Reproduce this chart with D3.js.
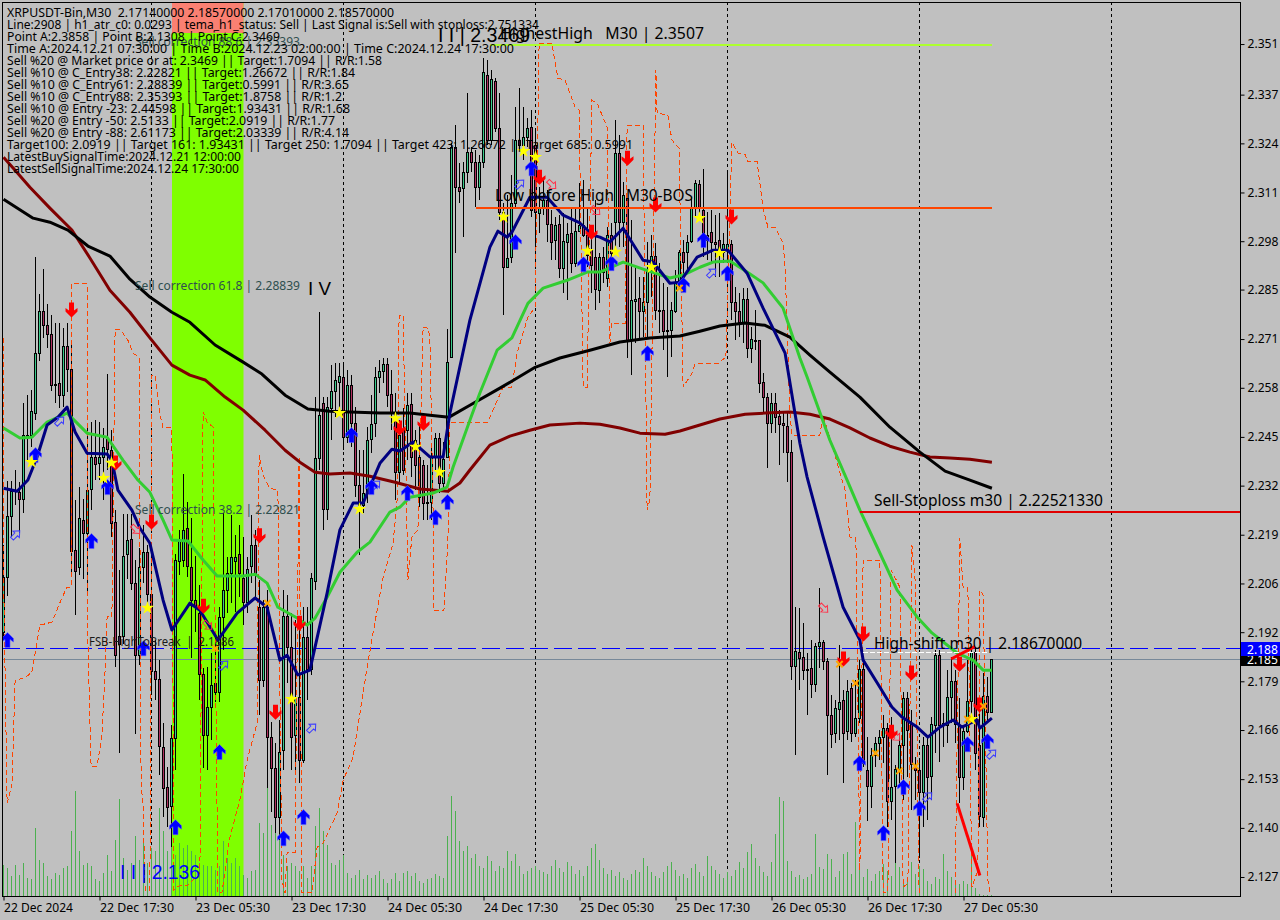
<!DOCTYPE html>
<html><head><meta charset="utf-8">
<script src="https://cdn.jsdelivr.net/npm/d3@7/dist/d3.min.js"></script>
<style>html,body{margin:0;padding:0;background:#c0c0c0;overflow:hidden}svg{display:block}text{font-family:"Noto Sans",sans-serif}</style>
</head><body><div id="c"></div>
<script>
// Prices are written as price x 10000
const opens=[21929,22077,22241,22308,22306,22287,22456,22459,22518,22679,
22792,22754,22730,22596,22599,22566,22698,22636,22150,22104,
22230,22195,22314,22400,22383,22400,22448,22418,22225,21919,
21919,22139,22179,22061,21867,22104,22144,22031,21824,21803,
21620,21513,21462,21644,22120,22123,22209,22104,22015,21980,
21816,21652,21728,21792,21768,21970,22042,22088,22120,22139,
22074,22010,22107,22163,21996,21800,21996,21647,21564,21432,
21612,21972,21889,21652,21755,21585,21916,21830,22066,22397,
22545,22260,22531,22577,22601,22615,22453,22593,22491,22324,
22271,22303,22448,22491,22615,22631,22650,22569,22518,22359,
22472,22472,22542,22445,22400,22378,22279,22279,22400,22451,
22330,22400,22668,23233,23125,23123,23166,23219,23192,23125,
23192,23427,23252,23410,23284,23058,22910,22937,23082,23252,
23238,23260,23287,23238,23055,23072,23090,23026,22983,23026,
22908,22977,23002,22921,23007,23023,22996,22956,22937,22848,
22937,22881,22996,23031,23217,23031,23096,22714,22819,22827,
22792,22816,22902,22940,22795,22795,22738,22741,22792,22867,
22951,22951,22980,23072,23133,23064,22996,23004,22977,22983,
22951,22956,22972,22816,22792,22763,22824,22693,22714,22714,
22601,22561,22491,22545,22510,22491,22483,22413,21838,21875,
21862,21830,21832,21789,21892,21902,21851,21706,21658,21722,
21746,21663,21779,21658,21698,21830,21558,21515,21599,21631,
21647,21671,21475,21515,21561,21625,21752,21682,21574,21558,
21499,21625,21542,21679,21867,21679,21679,21755,21798,21679,
21539,21663,21744,21875,21625,21432,21757,21714];
const closes=[22077,22241,22308,22311,22287,22459,22459,22523,22679,22792,
22754,22730,22593,22593,22566,22698,22636,22147,22093,22236,
22195,22311,22400,22381,22400,22427,22421,22222,21867,21897,
22133,22176,22061,21867,22104,22144,22031,21824,21803,21623,
21510,21459,21644,22123,22179,22204,22107,22015,21999,21816,
21652,21728,21787,21768,21970,22042,22088,22131,22131,22088,
22010,22099,22163,22088,21800,21996,21647,21564,21432,21607,
21972,21889,21647,21755,21585,21916,21830,22074,22397,22513,
22260,22534,22577,22607,22617,22453,22593,22491,22324,22271,
22303,22445,22488,22615,22631,22650,22566,22518,22359,22459,
22365,22539,22400,22378,22292,22276,22276,22400,22451,22330,
22394,22655,23233,23125,23115,23166,23219,23192,23125,23192,
23435,23252,23416,23284,23058,22910,22934,23082,23252,23238,
23260,23284,23063,23058,23072,23090,23026,22977,23023,22908,
22980,22999,22921,23007,23023,22996,22942,22916,22851,22937,
22897,22996,22948,23217,23031,23104,22714,22822,22824,22792,
22816,22902,22940,22795,22792,22738,22741,22795,22867,22951,
22924,22978,23069,23136,23069,22996,22983,22977,22972,22951,
22972,22972,22816,22792,22763,22824,22693,22717,22711,22598,
22561,22491,22545,22507,22488,22486,22413,21838,21878,21859,
21827,21827,21789,21892,21902,21851,21706,21655,21725,21741,
21658,21771,21658,21698,21830,21577,21515,21599,21631,21647,
21671,21475,21513,21561,21625,21752,21666,21574,21558,21499,
21625,21539,21682,21867,21679,21685,21755,21798,21682,21539,
21663,21744,21875,21604,21434,21757,21714,21857];
const highs=[22163,22335,22335,22365,22332,22545,22566,22580,22937,22838,
22905,22811,22781,22760,22760,22746,22760,22714,22284,22319,
22287,22478,22494,22499,22494,22478,22623,22472,22257,22096,
22246,22246,22246,22123,22155,22217,22163,22155,21908,21854,
21685,21566,21679,22139,22204,22354,22279,22236,22134,22056,
21832,21835,21873,21926,21996,22249,22131,22244,22190,22217,
22185,22131,22244,22204,22069,22015,22042,21687,21631,21693,
22042,22029,21980,21961,21969,21996,21996,22088,22561,22790,
22561,22561,22647,22652,22652,22652,22633,22620,22534,22418,
22418,22480,22566,22642,22660,22666,22666,22633,22572,22499,
22531,22572,22572,22472,22491,22391,22378,22437,22464,22464,
22440,22744,23244,23292,23190,23193,23378,23233,23225,23211,
23472,23467,23440,23418,23378,23082,23104,23158,23340,23391,
23340,23311,23332,23279,23125,23144,23117,23063,23045,23050,
23055,23029,23069,23072,23136,23144,23072,23018,23090,22948,
22964,23018,23029,23306,23265,23139,23096,23037,22910,22883,
22883,22978,22996,22975,22921,22867,22856,22816,22902,22956,
22983,22996,23098,23144,23144,23174,23058,23064,23050,23055,
23002,23171,22983,22857,22841,22854,22854,22749,22795,22714,
22625,22572,22572,22572,22526,22518,22518,22445,21996,21994,
21953,21873,21908,21900,22047,21908,21859,21760,21746,21894,
21773,21800,21792,21800,21854,21846,21647,21617,21647,21666,
21706,21685,21701,21572,21658,21768,21768,21720,21593,21585,
21647,21652,21701,21881,21881,21711,21827,21862,21827,21752,
21674,21854,21886,21886,21755,21819,21808,21857];
const lows=[21908,22026,22185,22271,22195,22249,22392,22426,22499,22658,
22720,22693,22577,22545,22531,22534,22574,22088,21975,22083,
22072,22037,22257,22338,22338,22284,22365,22185,21835,21604,
21897,22072,22042,21655,21840,22061,21999,21763,21746,21545,
21432,21405,21351,21558,22083,22104,22077,21859,21929,21746,
21564,21558,21639,21741,21741,21881,21980,22007,21983,22023,
21948,21980,22061,22015,21706,21782,21510,21446,21389,21370,
21558,21792,21558,21558,21523,21577,21746,21814,22042,22365,
22204,22230,22445,22507,22526,22418,22437,22427,22292,22136,
22249,22276,22410,22453,22572,22598,22534,22472,22284,22324,
22351,22391,22346,22311,22265,22230,22230,22230,22365,22303,
22311,22400,22668,22948,23082,22991,23136,23166,23072,23090,
23176,23238,23238,23273,23037,22781,22910,22921,23072,23225,
23198,23233,23045,22916,23002,23050,22977,22929,22929,22881,
22840,22822,22894,22910,23005,22991,22910,22840,22795,22814,
22867,22857,22921,22948,22964,22964,22666,22620,22706,22714,
22722,22722,22830,22768,22733,22687,22615,22668,22787,22857,
22849,22902,22975,23045,23037,22937,22929,22921,22883,22883,
22921,22929,22768,22714,22722,22706,22666,22652,22687,22572,
22518,22370,22464,22464,22378,22410,22332,21800,21599,21773,
21800,21706,21752,21768,21832,21827,21545,21617,21631,21639,
21523,21639,21634,21647,21685,21566,21421,21456,21566,21585,
21577,21405,21424,21308,21513,21478,21539,21451,21478,21322,
21405,21424,21478,21604,21580,21620,21631,21685,21631,21470,
21504,21658,21701,21558,21405,21405,21693,21711];
const volumes=[31,28,20,31,21,33,18,17,68,36,33,20,17,23,21,28,30,65,105,45,
31,33,30,17,15,23,41,25,56,97,38,26,33,60,36,58,33,48,45,88,
65,45,56,41,53,48,51,45,41,33,31,30,30,26,30,55,38,33,38,30,
21,18,25,26,73,63,108,71,81,56,41,30,33,30,25,30,18,30,70,88,
65,51,33,31,36,41,23,18,21,26,17,21,18,21,25,17,13,17,23,15,
23,25,20,23,15,13,17,18,22,20,18,60,100,85,55,45,50,38,42,30,
28,40,35,25,30,28,45,35,42,30,22,25,28,30,26,24,22,30,36,28,
24,34,30,22,26,20,30,48,52,36,28,22,26,20,24,18,16,22,26,24,
38,30,24,20,18,24,30,34,26,20,22,18,28,32,24,20,40,30,26,22,
18,24,20,26,34,28,44,52,38,30,24,20,34,62,99,95,35,25,19,21,
17,19,22,62,29,27,42,37,19,25,42,44,22,74,30,19,27,15,22,25,
32,25,20,45,29,12,19,34,22,30,27,15,12,19,17,42,25,19,12,12,
15,12,47,8,2,1,1,1];
const blackBars=[0,7.4,11.6,16.1,21.1,26.6,31.6,36.6,42.1,46.6,52.9,59.9,64.6,70.4,76.1,81.6,86.6,94.1,101.6,106.6,111.4,116.6,124.1,127.9,132.9,139.1,146.6,154.1,161.6,169.1,174.1,179.1,185.4,190.4,196.6,201.6,206.6,214.1,221.6,229.1,235.4,241.6,247.1];
const blackVals=[23093,23042,23031,23010,22967,22940,22878,22830,22789,22762,22701,22655,22623,22566,22529,22523,22521,22518,22518,22512,22507,22539,22585,22609,22641,22666,22687,22709,22720,22725,22738,22752,22760,22754,22722,22674,22628,22561,22480,22413,22362,22338,22316];
const maroonBars=[0,2.9,6.6,11.6,17.1,21.6,26.6,31.6,36.6,42.1,46.6,50.4,55.4,59.9,65.4,70.4,74.1,77.9,81.6,86.6,91.6,97.9,104.1,111.1,114.1,116.6,121.6,126.6,131.6,136.6,144.1,149.1,154.1,159.1,165.4,169.1,174.1,179.1,185.4,190.4,196.6,201.6,206.6,211.6,216.6,221.6,226.6,231.6,236.6,241.6,247.1];
const maroonVals=[23206,23171,23125,23069,23010,22935,22848,22789,22720,22647,22620,22607,22561,22526,22472,22418,22386,22359,22354,22357,22348,22332,22314,22308,22330,22365,22432,22456,22472,22486,22491,22488,22478,22464,22461,22470,22486,22502,22515,22518,22521,22515,22502,22478,22451,22429,22413,22400,22397,22394,22386];
const greenBars=[0,4.1,7.1,10.9,15.9,20.9,25.9,29.9,33.6,36.6,39.9,42.1,46.1,49.9,53.4,59.9,62.9,65.9,68.6,73.4,75.9,77.9,80.9,84.1,88.4,91.6,96.6,99.1,101.6,107.4,110.9,112.4,116.6,119.1,123.4,127.1,131.1,134.9,140.9,145.9,149.1,154.9,159.9,166.6,169.9,174.1,177.4,181.6,185.9,189.9,194.9,199.1,200.9,206.6,210.9,214.1,218.4,223.4,228.4,232.1,238.4,242.4,244.9,247.1];
const greenVals=[22478,22451,22453,22494,22518,22464,22453,22391,22338,22305,22230,22177,22174,22123,22080,22080,22085,22061,21996,21967,21948,21967,22023,22090,22144,22171,22252,22265,22292,22303,22319,22373,22499,22572,22687,22720,22813,22854,22875,22897,22897,22924,22905,22881,22889,22910,22924,22927,22897,22868,22800,22666,22615,22445,22338,22257,22158,22042,21970,21927,21873,21854,21827,21827];
const navyBars=[0,3.4,6.1,8.4,10.9,13.6,15.9,17.9,20.9,25.9,27.1,28.6,32.1,34.1,36.6,39.9,42.1,46.6,49.1,53.6,58.4,62.9,65.9,69.1,70.9,73.6,76.6,80.9,84.1,87.4,89.9,94.1,97.1,99.1,102.4,106.6,109.9,111.6,116.6,121.6,123.6,125.9,127.1,131.6,135.9,139.9,144.1,147.4,149.1,151.6,154.9,159.9,162.4,166.6,169.1,173.4,177.4,181.1,185.9,189.9,195.4,199.1,200.9,204.9,209.9,214.1,214.9,219.1,222.1,224.6,228.4,231.1,234.1,237.4,239.6,243.4,244.1,247.1];
const navyVals=[22316,22308,22338,22400,22486,22507,22534,22467,22410,22408,22391,22311,22257,22209,22168,22015,21935,22007,21988,21908,21980,22021,21996,21854,21867,21814,21827,22034,22204,22276,22276,22383,22421,22416,22440,22400,22400,22518,22768,22964,23007,22991,23004,23098,23098,23050,23029,22996,22991,22978,23015,22929,22924,22867,22870,22937,22956,22956,22894,22800,22679,22437,22346,22185,21996,21908,21854,21781,21728,21701,21674,21647,21674,21693,21674,21693,21671,21698];
const bandBars=[0,0,0.9,2.1,2.9,5.4,7.1,9.1,12.1,14.6,15.9,16.9,16.9,20.9,21.1,21.9,23.4,24.6,25.4,25.9,27.1,27.9,29.1,31.1,32.4,33.9,34.4,34.9,35.4,36.6,37.1,37.9,39.1,39.9,42.1,42.6,44.1,46.1,49.1,49.9,50.9,52.4,53.6,54.6,56.6,59.1,60.9,63.4,63.9,64.9,66.6,68.6,69.6,70.4,70.9,72.9,73.9,74.6,77.1,78.4,79.9,83.4,84.9,87.4,90.9,93.4,94.9,97.4,98.4,98.9,99.9,101.1,102.1,103.6,104.9,106.1,106.6,107.4,107.6,110.1,111.1,111.6,121.1,124.9,127.1,128.4,131.1,132.9,133.9,137.1,138.6,140.4,142.9,143.9,144.9,145.9,147.1,148.4,150.9,151.6,152.1,155.4,155.9,159.9,160.9,161.6,163.1,163.4,166.1,167.1,168.9,169.9,172.1,172.9,178.4,180.6,182.1,183.6,185.4,186.1,188.4,189.9,191.1,192.9,194.9,195.4,196.6,197.1,204.1,204.9,210.4,211.6,213.1,214.1,214.9,219.1,219.9,221.1,221.9,224.1,224.9,226.1,227.1,227.9,228.9,237.9,239.1,239.9,241.1,242.1,243.6,244.1,244.9,246.1,246.6];
const bandVals=[22720,22096,21470,21518,21800,21806,21822,21948,21956,22021,22050,22050,22865,22865,21908,21569,21569,21650,21827,21970,21970,22744,22744,22714,22679,22668,21518,21464,21236,21236,22620,22620,22515,22478,22478,21236,21249,21249,21281,22521,22494,22480,21228,21228,21378,21478,21585,21685,22405,22351,22316,22311,21263,21228,21338,21338,22400,21228,21228,21351,21362,21443,21531,21593,21835,21988,22077,22168,22284,22781,22781,22069,22185,22204,22749,22746,22722,22249,21986,21986,22177,22494,22494,22588,22588,22679,22776,22803,23512,23512,23418,23413,23340,23332,22588,22588,23359,23351,23287,22706,22760,22760,23292,23292,22257,22284,23440,23324,23319,23252,23230,22588,22625,22650,22650,22668,23246,23217,23214,23193,23193,23069,23018,23018,22975,22910,22518,22459,22459,22512,22311,22185,22182,21289,22123,22123,21228,21228,22096,22050,21244,21254,22163,22069,21228,21228,22182,22050,22048,21244,21289,22042,22029,21263,21228];
const sellBars=[17,28,37,50,64,68,74,99,105,134,147,156,163,182,215,210,222,227,239,244];
const sellVals=[22795,22384,22225,21999,22188,21714,21953,22478,22491,23152,23004,23203,23077,23045,21924,21857,21660,21819,21843,21733];
const buyBars=[1,8,22,26,35,43,54,70,75,87,92,101,108,111,128,132,145,152,161,170,175,181,214,220,225,229,241,246];
const buyVals=[21908,22405,22174,22319,21886,21405,21607,21375,21432,22459,22319,22303,22238,22279,22978,23176,22918,22921,22679,22862,22983,22894,21577,21389,21513,21456,21628,21636];
const starBars=[7,25,27,36,72,84,89,98,103,109,125,130,133,146,153,162,174,179,242];
const starVals=[22386,22343,22384,21994,21749,22518,22260,22504,22427,22359,23045,23222,23206,22953,22951,22910,23042,22948,21695];
const crossBars=[53,66,169,209,213,218,224,228,241,245];
const crossVals=[21886,22007,22854,21843,21792,21604,21556,21569,21695,21730];
const hollowUpBars=[3,14,55,77,93,129,177,231,247];
const hollowUpVals=[22190,22496,21840,21671,22324,23133,22894,21486,21601];
const hollowDownBars=[33,51,137,148,205,223];
const hollowDownVals=[22206,21948,23133,23063,21994,21650];
const priceTicks=[2.3510,2.3374,2.3243,2.3111,2.2980,2.2850,2.2717,2.2586,2.2454,2.2323,2.2191,2.2060,2.1929,2.1797,2.1666,2.1534,2.1403,2.1271];
const timeLabels=["22 Dec 2024","22 Dec 17:30","23 Dec 05:30","23 Dec 17:30","24 Dec 05:30","24 Dec 17:30","25 Dec 05:30","25 Dec 17:30","26 Dec 05:30","26 Dec 17:30","27 Dec 05:30"];
const timeTickBars=[0,24,48,72,96,120,144,168,192,216,240];
const separatorBars=[37,85,133,181,229,277];
const infoLines=[
["XRPUSDT-Bin,M30  2.17140000 2.18570000 2.17010000 2.18570000",394],
["Line:2908 | h1_atr_c0: 0.0293 | tema_h1_status: Sell | Last Signal is:Sell with stoploss:2.751334",539],
["Point A:2.3858 | Point B:2.1308 | Point C:2.3469",280],
["Time A:2024.12.21 07:30:00 | Time B:2024.12.23 02:00:00 | Time C:2024.12.24 17:30:00",514],
["Sell %20 @ Market price or at: 2.3469 || Target:1.7094 || R/R:1.58",382],
["Sell %10 @ C_Entry38: 2.22821 || Target:1.26672 || R/R:1.84",355],
["Sell %10 @ C_Entry61: 2.28839 || Target:0.5991 || R/R:3.65",349],
["Sell %10 @ C_Entry88: 2.35393 || Target:1.8758 || R/R:1.2",342],
["Sell %10 @ Entry -23: 2.44598 || Target:1.93431 || R/R:1.68",350],
["Sell %20 @ Entry -50: 2.5133 || Target:2.0919 || R/R:1.77",335],
["Sell %20 @ Entry -88: 2.61173 || Target:2.03339 || R/R:4.14",349],
["Target100: 2.0919 || Target 161: 1.93431 || Target 250: 1.7094 || Target 423: 1.26672 || Target 685: 0.5991",633],
["LatestBuySignalTime:2024.12.21 12:00:00",241],
["LatestSellSignalTime:2024.12.24 17:30:00",239]];
const highestHigh=2.3507, lowBeforeHigh=2.3069, stoploss=2.2252133, highShift=2.1867, fsbLevel=2.1886, lastPrice=2.1857;

const W=1280,H=920,L=2,R=1240,T=2,B=896;
const x=d3.scaleLinear().domain([0,1]).range([3.5,7.5]);
const y=d3.scaleLinear().domain([2.3623,2.12199]).range([T,B]);
const yp=p=>y(p/10000);
const yVol=d3.scaleLinear().domain([0,120]).range([B,B-120]);
const price3=d=>d.toFixed(4).slice(0,5);
const svg=d3.select("#c").append("svg").attr("width",W).attr("height",H).attr("viewBox",`0 0 ${W} ${H}`);
svg.append("rect").attr("width",W).attr("height",H).attr("fill","#c0c0c0");
svg.append("defs").append("clipPath").attr("id","plot").append("rect").attr("x",L).attr("y",T).attr("width",R-L).attr("height",B-T);
const g=svg.append("g").attr("clip-path","url(#plot)");
// highlighted session
const sessStart=42,sessEnd=60;
g.append("rect").attr("x",x(sessStart)+.5).attr("width",x(sessEnd)-x(sessStart)-.5).attr("y",T).attr("height",B-T).attr("fill","#7fff00");
g.append("rect").attr("x",x(sessStart)+.5).attr("width",x(sessEnd)-x(sessStart)-.5).attr("y",T+1).attr("height",30).attr("fill","#fa8072");
// session separators
g.selectAll(".sep").data(separatorBars).join("line").attr("x1",d=>Math.floor(x(d))+.5).attr("x2",d=>Math.floor(x(d))+.5).attr("y1",T).attr("y2",B-3).attr("stroke","#000").attr("stroke-dasharray","3,3").attr("shape-rendering","crispEdges");
// volumes
g.selectAll(".v").data(volumes).join("line").attr("x1",(d,i)=>Math.floor(x(i))+.5).attr("x2",(d,i)=>Math.floor(x(i))+.5).attr("y1",B).attr("y2",d=>yVol(d)).attr("stroke","#4cb050").attr("shape-rendering","crispEdges");
// horizontal levels
function hline(p,x1,x2,col,w,dash){g.append("line").attr("x1",x1).attr("x2",x2).attr("y1",Math.round(y(p))+(w%2?.5:0)).attr("y2",Math.round(y(p))+(w%2?.5:0)).attr("stroke",col).attr("stroke-width",w).attr("stroke-dasharray",dash||null).attr("shape-rendering","crispEdges");}
hline(lastPrice,L,R,"#778899",1);
hline(fsbLevel,L,R,"#0000ff",1,"18,6");
// candles
const cg=g.append("g");
d3.range(opens.length).forEach(i=>{
  const cx=Math.floor(x(i))+.5,up=closes[i]>=opens[i];
  const top=Math.round(yp(Math.max(opens[i],closes[i])))+.5,bot=Math.round(yp(Math.min(opens[i],closes[i])))+.5;
  cg.append("line").attr("x1",cx).attr("x2",cx).attr("y1",yp(highs[i])).attr("y2",yp(lows[i])).attr("stroke","#000").attr("shape-rendering","crispEdges");
  cg.append("rect").attr("x",cx-1).attr("width",2).attr("y",top).attr("height",Math.max(bot-top,1)).attr("fill",up?"#3acb8a":"#b03060").attr("stroke","#000").attr("shape-rendering","crispEdges");
});
// band
const line=d3.line().x(d=>x(d[0])).y(d=>yp(d[1]));
const breakAt=bandBars.indexOf(237.9);
function bandPath(pts){g.append("path").attr("d",line(pts)).attr("fill","none").attr("stroke","#ff4500").attr("stroke-dasharray","5,3").attr("shape-rendering","crispEdges");}
bandPath(bandBars.slice(0,breakAt).map((b,i)=>[b,bandVals[i]]));
bandPath(bandBars.slice(breakAt).map((b,i)=>[b,bandVals[i+breakAt]]));
function ma(bars,vals,col,w){g.append("path").attr("d",line(bars.map((b,i)=>[b,vals[i]]))).attr("fill","none").attr("stroke",col).attr("stroke-width",w).attr("stroke-linejoin","round");}
ma(maroonBars,maroonVals,"#800000",3);
ma(blackBars,blackVals,"#000000",3);
ma(greenBars,greenVals,"#32cd32",3);
ma(navyBars,navyVals,"#000080",3);
hline(highestHigh,x(121.5),x(247.2),"#adff2f",2);
hline(lowBeforeHigh,x(118),x(247.2),"#ff4500",2);
hline(stoploss,x(214.2),R,"#e00000",2);
hline(2.1876,x(214.8),x(246),"#ffffff",1,"5,2");
// short red strokes
g.append("line").attr("x1",x(236.9)).attr("x2",x(242.9)).attr("y1",y(2.1857)).attr("y2",y(2.1891)).attr("stroke","#ff0000").attr("stroke-width",3);
g.append("line").attr("x1",x(238.4)).attr("x2",x(244.1)).attr("y1",y(2.1469)).attr("y2",y(2.1275)).attr("stroke","#ff0000").attr("stroke-width",3);
// markers
const arrow="M0,-7.5L6,-1.5L6,2L2.5,-0.5L2.5,7.5L-2.5,7.5L-2.5,-0.5L-6,2L-6,-1.5Z";
const hollow="M0,-6L4.5,-1L2,-1L2,5L-2,5L-2,-1L-4.5,-1Z";
function marks(bars,vals,draw){bars.forEach((b,i)=>draw(g.append("path").attr("transform",`translate(${x(b)},${yp(vals[i])})`)));}
marks(hollowUpBars,hollowUpVals,s=>{s.attr("d",hollow).attr("fill","none").attr("stroke","#3a3aff").attr("transform",s.attr("transform")+" rotate(45)");});
marks(hollowDownBars,hollowDownVals,s=>{s.attr("d",hollow).attr("fill","none").attr("stroke","#ff3048").attr("transform",s.attr("transform")+" rotate(135)");});
marks(sellBars,sellVals,s=>{s.attr("d",arrow).attr("fill","#ff0000").attr("transform",s.attr("transform")+" rotate(180)");});
marks(buyBars,buyVals,s=>{s.attr("d",arrow).attr("fill","#0000ff").attr("stroke","#5a5aff").attr("stroke-width",.6);});
const star=d3.symbol().type(d3.symbolStar).size(55)();
const cross=d3.symbol().type(d3.symbolTimes).size(28)();
marks(starBars,starVals,s=>{s.attr("d",star).attr("fill","#ffff00");});
marks(crossBars,crossVals,s=>{s.attr("d",cross).attr("fill","none").attr("stroke","#ffa500").attr("stroke-width",2);});
// text
function label(t,x0,yb,size,col,x1,font){const e=svg.append("text").attr("x",x0).attr("y",yb).attr("font-size",size).attr("fill",col).style("white-space","pre").text(t);if(font)e.style("font-family",font);if(x1)e.attr("textLength",x1-x0).attr("lengthAdjust","spacingAndGlyphs");return e;}
const SANS='"Liberation Sans",sans-serif';
label("Sell correction 88.6 | 2.35393",135,46,12,"#2f4f4f",300);
label("Sell correction 61.8 | 2.28839",135,290,12,"#2f4f4f",300);
label("Sell correction 38.2 | 2.22821",135,514,12,"#2f4f4f",300);
label("FSB-HighToBreak  |  2.1886",89,646,12,"#1a1a1a",234);
label("I V",308,295,18,"#000",331,SANS);
label("I I | 2.3469",438,42,20,"#000",530,SANS);
label("I I | 2.136",120,879,20,"#0000ff",200,SANS);
label("HighestHigh   M30 | 2.3507",500,39,16,"#000",704);
label("Low before High   M30-BOS",495,201,16,"#000",693);
label("Sell-Stoploss m30 | 2.22521330",874,506,16,"#000",1103);
label("High-shift m30 | 2.18670000",874,649,16,"#000",1082);
infoLines.forEach((l,i)=>label(l[0],7,17+i*12,12,"#000",l[1]));
// frame and axes
svg.append("rect").attr("x",L+.5).attr("y",T+.5).attr("width",R-L-.5).attr("height",B-T-.5).attr("fill","none").attr("stroke","#000").attr("shape-rendering","crispEdges");
const yAxis=d3.axisRight(y).tickValues(priceTicks).tickSize(4).tickPadding(3).tickFormat(price3);
const ya=svg.append("g").attr("transform",`translate(${R+.5},0)`).call(yAxis);
ya.select(".domain").remove();
ya.selectAll("text").attr("font-size",12).attr("fill","#000").attr("textLength",31).attr("lengthAdjust","spacingAndGlyphs").style("font-family",'"Noto Sans",sans-serif');
const xAxis=d3.axisBottom(x).tickValues(timeTickBars).tickSize(4).tickPadding(3).tickFormat((d,i)=>timeLabels[i]);
const xa=svg.append("g").attr("transform",`translate(0,${B+.5})`).call(xAxis);
xa.select(".domain").remove();
xa.selectAll("text").attr("text-anchor","start").attr("font-size",12).attr("fill","#000").attr("textLength",(d,i)=>i?74:69).attr("lengthAdjust","spacingAndGlyphs").style("font-family",'"Noto Sans",sans-serif');
// price tags
function tag(p,col,y0,h){svg.append("rect").attr("x",R+1).attr("y",y0).attr("width",W-R).attr("height",h).attr("fill",col);svg.append("text").attr("x",R+7).attr("y",y0+h-2.5).attr("font-size",12).attr("fill","#fff").attr("textLength",31).attr("lengthAdjust","spacingAndGlyphs").text(price3(p));}
tag(lastPrice,"#000",655,11);
tag(fsbLevel,"#0000ff",642,14);
</script></body></html>
